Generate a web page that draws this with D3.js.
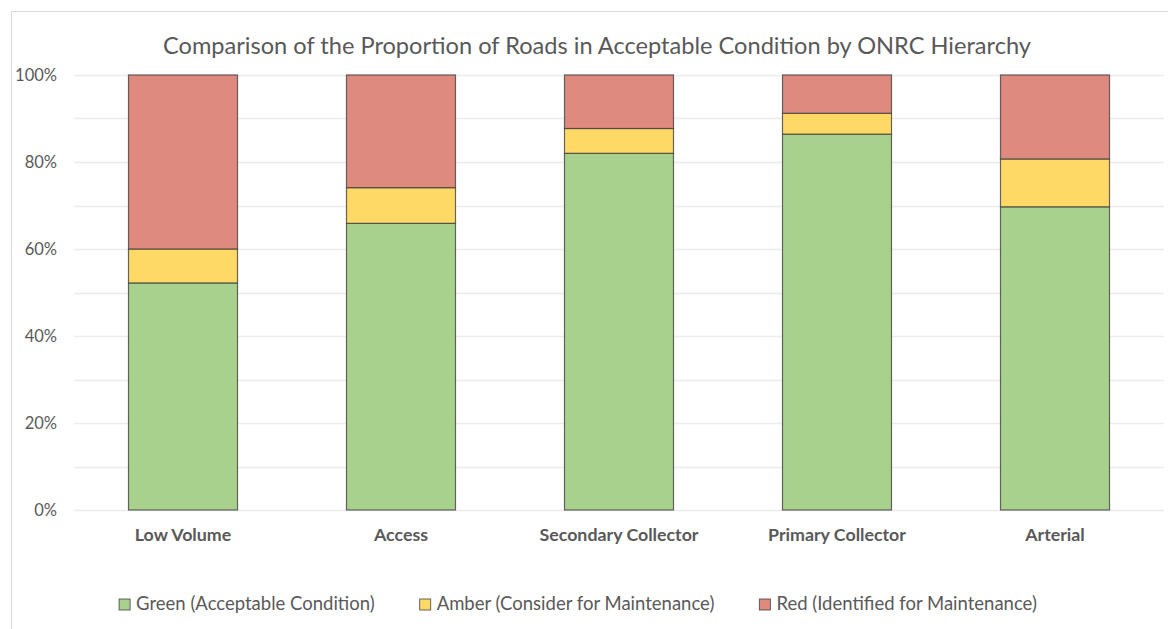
<html>
<head>
<script src="https://d3js.org/d3.v7.min.js"></script>
<style>
  body { margin: 0; background: #fff; }
  text { font-family: Lato, "Open Sans", sans-serif; fill: #595959; }
</style>
</head>
<body>
<svg id="chart"></svg>
<script>
// chart data
var categories = ["Low Volume", "Access", "Secondary Collector", "Primary Collector", "Arterial"];
var seriesNames = ["Green (Acceptable Condition)", "Amber (Consider for Maintenance)", "Red (Identified for Maintenance)"];
var green = [0.522, 0.659, 0.820, 0.864, 0.697];
var amber = [0.078, 0.082, 0.057, 0.048, 0.110];
var red   = [0.400, 0.259, 0.123, 0.088, 0.193];
var yTicks = [0, 0.2, 0.4, 0.6, 0.8, 1];
var gridTicks = [0, 0.1, 0.2, 0.3, 0.4, 0.5, 0.6, 0.7, 0.8, 0.9, 1];
var colors = ["#a9d18e", "#ffd966", "#de8a7e"];

var width = 1168, height = 629;
var svg = d3.select("#chart").attr("width", width).attr("height", height);

// outer chart border (only top/left show in the picture)
svg.append("rect")
  .attr("x", 11.5).attr("y", 11.5)
  .attr("width", width).attr("height", height)
  .attr("fill", "none").attr("stroke", "#d9d9d9");

var x = d3.scaleBand().domain(categories).range([74, 1164]).paddingInner(0.5).paddingOuter(0.25);
var y = d3.scaleLinear().domain([0, 1]).range([510, 75]);

// gridlines
svg.append("g").selectAll("line")
  .data(gridTicks)
  .join("line")
    .attr("x1", 74).attr("x2", 1164)
    .attr("y1", d => Math.round(y(d)) + 0.5).attr("y2", d => Math.round(y(d)) + 0.5)
    .attr("stroke", "#ececec").attr("stroke-width", 1.5);

// y labels
svg.append("g").selectAll("text")
  .data(yTicks)
  .join("text")
    .attr("x", 57).attr("y", d => y(d))
    .attr("dy", "0.35em")
    .attr("text-anchor", "end")
    .attr("font-size", 16.5)
    .text(d3.format(".0%"));

// stacked bars
var rows = categories.map((c, i) => ({cat: c, g: green[i], a: amber[i], r: red[i]}));
var stack = d3.stack().keys(["g", "a", "r"]);
var layers = stack(rows);

svg.append("g").selectAll("g")
  .data(layers)
  .join("g")
    .attr("fill", (d, i) => colors[i])
  .selectAll("rect")
  .data(d => d)
  .join("rect")
    .attr("x", d => x(d.data.cat))
    .attr("width", x.bandwidth())
    .attr("y", d => y(d[1]))
    .attr("height", d => y(d[0]) - y(d[1]))
    .attr("stroke", "#404040")
    .attr("stroke-opacity", 0.8)
    .attr("stroke-width", 1.2);

// category labels
svg.append("g").selectAll("text")
  .data(categories)
  .join("text")
    .attr("x", d => x(d) + x.bandwidth() / 2)
    .attr("y", 535)
    .attr("dy", "0.35em")
    .attr("text-anchor", "middle")
    .attr("font-size", 17.8)
    .attr("font-weight", "bold")
    .text(d => d);

// title
svg.append("text")
  .attr("x", 597).attr("y", 46)
  .attr("dy", "0.35em")
  .attr("text-anchor", "middle")
  .attr("font-size", 23.6)
  .text("Comparison of the Proportion of Roads in Acceptable Condition by ONRC Hierarchy");

// legend
var legend = svg.append("g");
var items = legend.selectAll("g")
  .data(seriesNames)
  .join("g");
items.append("rect")
  .attr("width", 11).attr("height", 11)
  .attr("y", -5)
  .attr("fill", (d, i) => colors[i])
  .attr("stroke", "#404040").attr("stroke-opacity", 0.8);
items.append("text")
  .attr("x", 17)
  .attr("dy", "0.35em")
  .attr("font-size", 18.5)
  .text(d => d);

var gap = 45;
var xPos = 0, offsets = [];
items.each(function() {
  offsets.push(xPos);
  var w = 17 + d3.select(this).select("text").node().getComputedTextLength();
  xPos += w + gap;
});
var total = xPos - gap;
var startX = 578 - total / 2;
items.attr("transform", (d, i) => `translate(${startX + offsets[i]},604)`);
</script>
</body>
</html>
